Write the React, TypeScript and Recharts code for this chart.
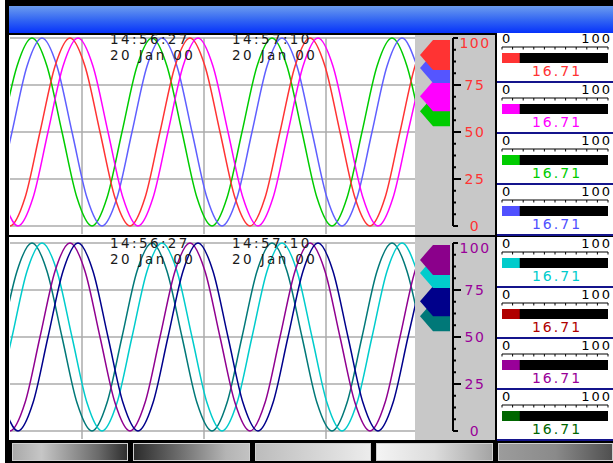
import { Bar, BarChart, Line, LineChart, ReferenceLine, XAxis, YAxis } from "recharts";

// pen samples: one value every STEP time units, starting at *_START
const STEP = 15;
const SPAN = 405;

const TOP_GREEN_START = -8;
const TOP_GREEN = [50, 85, 100, 85, 50, 15, 0, 15, 50, 85, 100, 85, 50, 15, 0, 15, 50, 85, 100, 85, 50, 15, 0, 15, 50, 85, 100, 85, 50];
const TOP_BLUE_START = -13;
const TOP_BLUE = [15, 50, 85, 100, 85, 50, 15, 0, 15, 50, 85, 100, 85, 50, 15, 0, 15, 50, 85, 100, 85, 50, 15, 0, 15, 50, 85, 100, 85];
const TOP_RED_START = -15;
const TOP_RED = [15, 0, 15, 50, 85, 100, 85, 50, 15, 0, 15, 50, 85, 100, 85, 50, 15, 0, 15, 50, 85, 100, 85, 50, 15, 0, 15, 50, 85, 100];
const TOP_MAGENTA_START = -7;
const TOP_MAGENTA = [15, 0, 15, 50, 85, 100, 85, 50, 15, 0, 15, 50, 85, 100, 85, 50, 15, 0, 15, 50, 85, 100, 85, 50, 15, 0, 15, 50, 85];

const BOT_TEAL_START = -8;
const BOT_TEAL = [50, 85, 100, 85, 50, 15, 0, 15, 50, 85, 100, 85, 50, 15, 0, 15, 50, 85, 100, 85, 50, 15, 0, 15, 50, 85, 100, 85, 50];
const BOT_CYAN_START = -13;
const BOT_CYAN = [15, 50, 85, 100, 85, 50, 15, 0, 15, 50, 85, 100, 85, 50, 15, 0, 15, 50, 85, 100, 85, 50, 15, 0, 15, 50, 85, 100, 85];
const BOT_PURPLE_START = -15;
const BOT_PURPLE = [15, 0, 15, 50, 85, 100, 85, 50, 15, 0, 15, 50, 85, 100, 85, 50, 15, 0, 15, 50, 85, 100, 85, 50, 15, 0, 15, 50, 85, 100];
const BOT_NAVY_START = -7;
const BOT_NAVY = [15, 0, 15, 50, 85, 100, 85, 50, 15, 0, 15, 50, 85, 100, 85, 50, 15, 0, 15, 50, 85, 100, 85, 50, 15, 0, 15, 50, 85];

const GRID_LEVELS = [0, 25, 50, 75, 100];
const GRID_TIMES = [72, 194, 316];
const SCALE_TICKS = [0, 6.25, 12.5, 18.75, 25, 31.25, 37.5, 43.75, 50, 56.25, 62.5, 68.75, 75, 81.25, 87.5, 93.75, 100];

const STAMP_TIMES = ["14:56:27", "14:57:10"];
const STAMP_DATE = "20 Jan 00";

// current-value pointers, drawn low to high
const TOP_POINTERS = [61, 69, 84, 91];
const TOP_POINTER_COLORS = ["#00cc00", "#ff00ff", "#5555ff", "#ff3333"];
const BOT_POINTERS = [61, 69, 84, 91];
const BOT_POINTER_COLORS = ["#007878", "#00008b", "#00cccc", "#8b008b"];

const GAUGE_TICKS = [0, 10, 20, 30, 40, 50, 60, 70, 80, 90, 100];
const TOP_GAUGE_VALUES = [16.71, 16.71, 16.71, 16.71];
const TOP_GAUGE_COLORS = ["#ff3333", "#ff00ff", "#00cc00", "#5050ff"];
const BOT_GAUGE_VALUES = [16.71, 16.71, 16.71, 16.71];
const BOT_GAUGE_COLORS = ["#00cccc", "#b00000", "#990099", "#006600"];

const FONT = '"DejaVu Sans", sans-serif';

type Pen = { color: string; start: number; values: number[] };

const toRows = (start: number, values: number[]) => values.map((v, i) => ({ t: start + i * STEP, v }));

const TOP_PENS: Pen[] = [
  { color: "#00cc00", start: TOP_GREEN_START, values: TOP_GREEN },
  { color: "#5f5fff", start: TOP_BLUE_START, values: TOP_BLUE },
  { color: "#ff3333", start: TOP_RED_START, values: TOP_RED },
  { color: "#ff00ff", start: TOP_MAGENTA_START, values: TOP_MAGENTA },
];
const BOT_PENS: Pen[] = [
  { color: "#007878", start: BOT_TEAL_START, values: BOT_TEAL },
  { color: "#00cccc", start: BOT_CYAN_START, values: BOT_CYAN },
  { color: "#900090", start: BOT_PURPLE_START, values: BOT_PURPLE },
  { color: "#00008b", start: BOT_NAVY_START, values: BOT_NAVY },
];

function PointerTick(props: any) {
  const { x, y, payload, values, colors } = props;
  const color = colors[values.indexOf(payload.value)];
  const pts = [
    [x + 5, y],
    [x + 18, y - 15],
    [x + 35, y - 15],
    [x + 35, y + 15],
    [x + 18, y + 15],
  ];
  return <polygon points={pts.map((p) => p.join(",")).join(" ")} fill={color} />;
}

function ScaleTick(props: any) {
  const { x, y, payload, color } = props;
  const v = payload.value;
  const major = v % 25 === 0;
  const end = v === 0 || v === 100;
  const len = end ? 5 : major ? 8 : 3;
  return (
    <g>
      <line x1={x} y1={y} x2={x + len} y2={y} stroke="#000" strokeWidth={2} />
      {major && (
        <text
          x={x + 22}
          y={y + (v === 100 ? 5 : 0)}
          dy="0.36em"
          textAnchor="middle"
          fill={color}
          fontSize={14}
          fontFamily={FONT}
          letterSpacing={1.5}
        >
          {v}
        </text>
      )}
    </g>
  );
}

function Panel({ top, pens, pointers, pointerColors, scaleColor }: any) {
  return (
    <div style={{ position: "absolute", left: 10, top, width: 485, height: 200 }}>
      <LineChart width={485} height={200} margin={{ top: 3, right: 0, bottom: 1, left: 0 }}>
        <XAxis
          type="number"
          dataKey="t"
          domain={[0, SPAN]}
          allowDataOverflow
          ticks={GRID_TIMES}
          interval={0}
          height={8}
          tickSize={8}
          axisLine={false}
          tickLine={{ stroke: "#ababab", strokeWidth: 1.5 }}
          tick={() => <g />}
        />
        <YAxis yAxisId="v" domain={[0, 100]} hide />
        <YAxis
          yAxisId="ptr"
          orientation="right"
          domain={[0, 100]}
          allowDataOverflow
          width={38}
          ticks={pointers}
          interval={0}
          tickSize={0}
          tickMargin={0}
          axisLine={false}
          tickLine={false}
          tick={(p: any) => <PointerTick {...p} values={pointers} colors={pointerColors} />}
        />
        <YAxis
          yAxisId="scale"
          orientation="right"
          domain={[0, 100]}
          allowDataOverflow
          width={42}
          ticks={SCALE_TICKS}
          interval={0}
          tickSize={0}
          tickMargin={0}
          axisLine={{ stroke: "#000", strokeWidth: 2 }}
          tickLine={false}
          tick={(p: any) => <ScaleTick {...p} color={scaleColor} />}
        />
        {GRID_LEVELS.map((g) => (
          <ReferenceLine key={"h" + g} yAxisId="v" y={g} stroke="#ababab" strokeWidth={1.5} />
        ))}
        {GRID_TIMES.map((t) => (
          <ReferenceLine key={"v" + t} yAxisId="v" x={t} stroke="#ababab" strokeWidth={1.5} />
        ))}
        {pens.map((p: Pen, i: number) => (
          <Line
            key={i}
            yAxisId="v"
            data={toRows(p.start, p.values)}
            dataKey="v"
            type="monotone"
            stroke={p.color}
            strokeWidth={1.5}
            dot={false}
            isAnimationActive={false}
          />
        ))}
      </LineChart>
    </div>
  );
}

function GaugeTick(props: any) {
  const { x, y, payload } = props;
  const v = payload.value;
  return (
    <g>
      <line x1={x} y1={y} x2={x} y2={y + 2.5} stroke="#000" />
      {(v === 0 || v === 100) && (
        <text
          x={v === 0 ? x : x + 4}
          y={y - 4.5}
          textAnchor={v === 0 ? "start" : "end"}
          fontSize={13}
          fontFamily={FONT}
          letterSpacing={2}
          fill="#000"
        >
          {v}
        </text>
      )}
    </g>
  );
}

function Gauge({ top, value, color }: { top: number; value: number; color: string }) {
  return (
    <div style={{ position: "absolute", left: 497, top, width: 116, height: 51 }}>
      <BarChart
        width={116}
        height={51}
        layout="vertical"
        data={[{ name: "pv", value }]}
        margin={{ top: 0, right: 5, bottom: 13, left: 5 }}
      >
        <XAxis
          type="number"
          orientation="top"
          domain={[0, 100]}
          ticks={GAUGE_TICKS}
          interval={0}
          height={16}
          tickSize={0}
          tickMargin={0}
          axisLine={{ stroke: "#000" }}
          tickLine={false}
          tick={GaugeTick}
        />
        <YAxis type="category" dataKey="name" hide />
        <Bar dataKey="value" fill={color} barSize={10} background={{ fill: "#000" }} isAnimationActive={false} />
      </BarChart>
      <div
        style={{
          position: "absolute",
          top: 33,
          left: 2,
          width: 116,
          textAlign: "center",
          color,
          fontFamily: FONT,
          fontSize: 14,
          lineHeight: "14px",
          letterSpacing: 2,
        }}
      >
        {value.toFixed(2)}
      </div>
      <div style={{ position: "absolute", left: 0, top: 50, width: 116, height: 2, background: "#14148c" }} />
    </div>
  );
}

function Stamp({ left, top, time }: { left: number; top: number; time: string }) {
  const line = {
    position: "absolute" as const,
    left,
    fontFamily: FONT,
    fontSize: 13.5,
    lineHeight: "16px",
    letterSpacing: 2.4,
    color: "#1a1a1a",
    whiteSpace: "nowrap" as const,
  };
  return (
    <>
      <div style={{ ...line, top }}>{time}</div>
      <div style={{ ...line, top: top + 16 }}>{STAMP_DATE}</div>
    </>
  );
}

const BUTTONS = [
  { left: 12, width: 116, bg: "linear-gradient(90deg, #a9a9a9, #c6c6c6 25%, #6a6a6a 75%, #2e2e2e)" },
  { left: 133, width: 117, bg: "linear-gradient(90deg, #2c2c2c, #6e6e6e 40%, #b4b4b4 80%, #c2c2c2)" },
  { left: 255, width: 116, bg: "linear-gradient(90deg, #bcbcbc, #d4d4d4 50%, #ececec)" },
  { left: 376, width: 117, bg: "linear-gradient(90deg, #f4f4f4, #dcdcdc 50%, #a4a4a4)" },
  { left: 498, width: 115, bg: "linear-gradient(90deg, #9c9c9c, #8a8a8a 50%, #505050)" },
];

export default function App() {
  return (
    <div
      style={{
        position: "absolute",
        left: 0,
        top: 0,
        width: 613,
        height: 463,
        background: "#fff",
        overflow: "hidden",
        fontFamily: FONT,
      }}
    >
      <div style={{ position: "absolute", left: 5, top: 0, width: 608, height: 463, background: "#000" }} />
      <div
        style={{
          position: "absolute",
          left: 9,
          top: 6,
          width: 604,
          height: 27,
          background: "linear-gradient(180deg, #6b9cef 0%, #2f62f3 55%, #0632fb 100%)",
        }}
      />

      {/* top panel */}
      <div style={{ position: "absolute", left: 9, top: 35, width: 406, height: 200, background: "#fff" }} />
      <div style={{ position: "absolute", left: 415, top: 35, width: 80, height: 200, background: "#c8c8c8" }} />
      <div style={{ position: "absolute", left: 497, top: 33, width: 116, height: 202, background: "#fff" }} />

      {/* bottom panel */}
      <div style={{ position: "absolute", left: 9, top: 237, width: 406, height: 203, background: "#fff" }} />
      <div style={{ position: "absolute", left: 415, top: 237, width: 80, height: 203, background: "#c8c8c8" }} />
      <div style={{ position: "absolute", left: 497, top: 237, width: 116, height: 203, background: "#fff" }} />

      <Panel top={35} pens={TOP_PENS} pointers={TOP_POINTERS} pointerColors={TOP_POINTER_COLORS} scaleColor="#ff3333" />
      <Panel top={240} pens={BOT_PENS} pointers={BOT_POINTERS} pointerColors={BOT_POINTER_COLORS} scaleColor="#990099" />

      {STAMP_TIMES.map((s, i) => (
        <Stamp key={"t" + i} left={110 + i * 122} top={31} time={s} />
      ))}
      {STAMP_TIMES.map((s, i) => (
        <Stamp key={"b" + i} left={110 + i * 122} top={235} time={s} />
      ))}

      {TOP_GAUGE_VALUES.map((v, i) => (
        <Gauge key={"tg" + i} top={31 + i * 51} value={v} color={TOP_GAUGE_COLORS[i]} />
      ))}
      {BOT_GAUGE_VALUES.map((v, i) => (
        <Gauge key={"bg" + i} top={236 + i * 51} value={v} color={BOT_GAUGE_COLORS[i]} />
      ))}

      {BUTTONS.map((b, i) => (
        <div
          key={i}
          style={{
            position: "absolute",
            left: b.left,
            top: 443,
            width: b.width,
            height: 18,
            boxSizing: "border-box",
            border: "1px solid #cfcfcf",
            background: b.bg,
          }}
        />
      ))}
    </div>
  );
}
